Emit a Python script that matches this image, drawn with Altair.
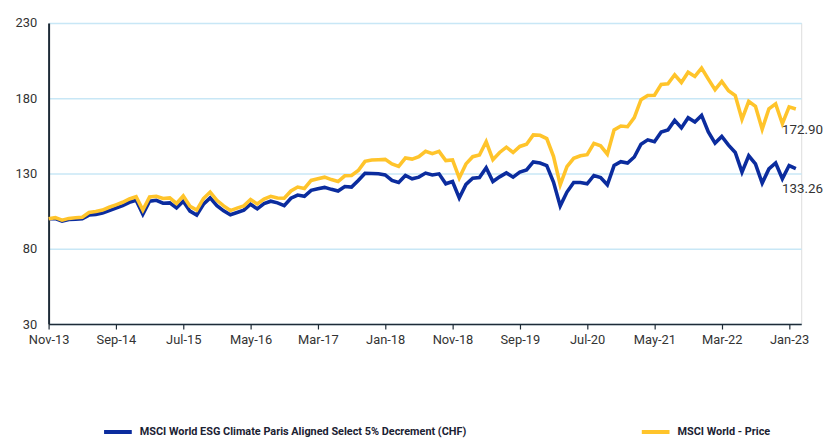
import altair as alt
import pandas as pd

SERIES_A = "MSCI World ESG Climate Paris Aligned Select 5% Decrement (CHF)"
SERIES_B = "MSCI World - Price"

blue_vals = [100, 100, 98.4, 99.5, 99.7, 100, 102.4, 102.8, 103.7, 105.4,
             107, 108.7, 110.9, 112.2, 103, 111.6, 112.2, 110.3, 110.5, 107.2,
             111.6, 105, 102.4, 109.6, 113.8, 108.7, 105.2, 102.6, 104.1, 105.7,
             109.6, 106.5, 110, 111.6, 110.5, 108.7, 113.6, 115.7, 114.9, 118.8,
             119.9, 120.8, 119.5, 118.4, 121.4, 121, 125.4, 130.2, 130, 129.8,
             129.1, 125.4, 124.1, 128.7, 126.5, 127.6, 130.3, 129.1, 129.8, 123.2,
             124.7, 113.8, 122.8, 126.9, 127.4, 133.9, 124.7, 127.8, 130.4, 127.6,
             130.9, 132.4, 137.7, 137, 135.3, 124.3, 108.5, 117.7, 124.1, 124.1,
             123.2, 128.7, 127.4, 122.5, 135.3, 137.9, 137, 141, 149.5, 152.4,
             151.1, 157.6, 158.9, 165.3, 160.3, 167.1, 164.2, 168.6, 157.6, 150.2,
             154.6, 148.9, 144, 130.9, 141.8, 136.4, 123.6, 133.1, 137, 126.5,
             135.3, 133.26]

gold_vals = [100, 100.7, 99, 100.2, 100.6, 101, 104.1, 104.8, 105.7, 107.6,
             109.2, 110.9, 113.1, 114.6, 105.7, 114.4, 114.9, 113.4, 113.8, 110.1,
             115.1, 108.3, 105.7, 113.4, 117.7, 112.2, 108.5, 105.4, 107, 108.5,
             112.7, 109.8, 113.1, 114.9, 113.8, 113.6, 118.4, 121, 120.1, 125.4,
             126.5, 127.6, 126, 124.7, 128.5, 128.7, 132, 138.1, 139, 139.2,
             139.4, 136.4, 134.8, 140.3, 139.6, 141.2, 144.8, 143.2, 144.7, 138.6,
             139, 127.1, 136.4, 141.2, 142.3, 151.1, 139.2, 144, 147.5, 144,
             148, 149.5, 155.7, 155.4, 153.2, 141.4, 122.5, 134.6, 140.1, 141.8,
             142.5, 150, 148.4, 142.9, 158.9, 161.6, 161.1, 167.1, 179.1, 181.8,
             182, 189.2, 189.6, 195.6, 190.5, 197.3, 194.5, 200, 192.7, 185.7,
             191.2, 185, 181.8, 166, 178, 174.7, 159.4, 173, 176.3, 163.1,
             174.3, 172.90]

tick_labels = ["Nov-13", "Sep-14", "Jul-15", "May-16", "Mar-17", "Jan-18",
               "Nov-18", "Sep-19", "Jul-20", "May-21", "Mar-22", "Jan-23"]
y_ticks = [30, 80, 130, 180, 230]

BLUE = "#0b2c9e"
GOLD = "#ffc42b"

df_a = pd.DataFrame({"m": range(len(blue_vals)), "v": blue_vals, "s": SERIES_A})
df_b = pd.DataFrame({"m": range(len(gold_vals)), "v": gold_vals, "s": SERIES_B})
df_end = pd.DataFrame({
    "m": [len(blue_vals) - 1, len(gold_vals) - 1],
    "v": [blue_vals[-1], gold_vals[-1]],
    "t": [f"{blue_vals[-1]:.2f}", f"{gold_vals[-1]:.2f}"],
})

label_arr = "[" + ",".join(f"'{t}'" for t in tick_labels) + "]"

x_enc = alt.X("m:Q",
              scale=alt.Scale(domain=[0, 111.8], nice=False, zero=False),
              axis=alt.Axis(values=[i * 10 for i in range(len(tick_labels))],
                            labelExpr=f"{label_arr}[round(datum.value/10)]",
                            title=None, grid=False, domainColor="#1e2b37",
                            domainWidth=1.5, tickColor="#1e2b37", tickWidth=1.2,
                            tickSize=5, labelPadding=5, labelFont="Roboto",
                            labelFontSize=13, labelColor="#333333",
                            labelFlush=False, labelOverlap=False))
y_enc = alt.Y("v:Q",
              scale=alt.Scale(domain=[30, 230], nice=False, zero=False),
              axis=alt.Axis(values=y_ticks, title=None, grid=True,
                            gridColor="#c8e7f6", gridWidth=1.5,
                            domainColor="#1e2b37", domainWidth=2, ticks=False,
                            labelPadding=12, labelFont="Roboto", labelFontSize=13,
                            labelColor="#333333"))

color_enc = alt.Color("s:N",
                      scale=alt.Scale(domain=[SERIES_A, SERIES_B], range=[BLUE, GOLD]),
                      legend=alt.Legend(orient="none", legendX=54, legendY=397,
                                        direction="horizontal", columns=2, title=None,
                                        symbolType="stroke", symbolSize=784,
                                        symbolStrokeWidth=4, labelFont="Roboto",
                                        labelFontSize=11, labelFontWeight="bold",
                                        labelColor="#1b2233", columnPadding=168,
                                        labelLimit=600, labelOffset=6))

line_a = alt.Chart(df_a).mark_line(strokeWidth=3.6).encode(x=x_enc, y=y_enc, color=color_enc)
line_b = alt.Chart(df_b).mark_line(strokeWidth=3.6).encode(x=x_enc, y=y_enc, color=color_enc)
labels = alt.Chart(df_end).mark_text(align="left", baseline="middle", dx=-14, dy=21,
                                     font="Roboto", fontSize=13.5, color="#333333").encode(
    x="m:Q", y="v:Q", text="t:N")

chart = alt.layer(line_a, line_b, labels).properties(
    width=760, height=304, autosize="none",
    padding={"left": 41, "top": 13, "right": 23, "bottom": 123},
).configure_view(stroke=None).configure(background="white")

chart.save("out.html", embed_options={"renderer": "svg", "actions": False})
